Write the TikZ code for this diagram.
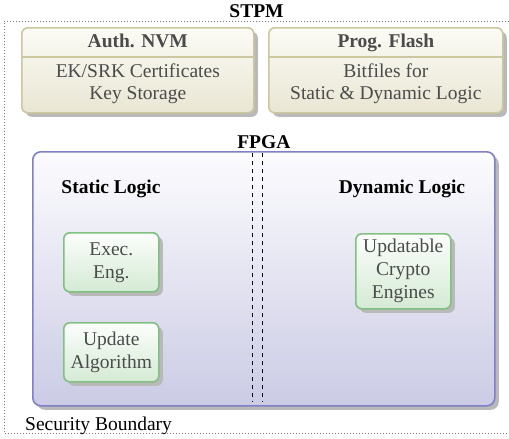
\documentclass[tikz,border=0pt]{standalone}
\usepackage{fontspec}
\setmainfont{Liberation Serif}
\usetikzlibrary{shadows}
\definecolor{ybord}{RGB}{204,199,160}
\definecolor{ytop}{RGB}{251,251,245}
\definecolor{ybot}{RGB}{233,230,211}
\definecolor{fbord}{RGB}{128,128,200}
\definecolor{ftop}{RGB}{252,252,254}
\definecolor{fbot}{RGB}{203,203,229}
\definecolor{gbord}{RGB}{128,192,128}
\definecolor{gtop}{RGB}{252,254,252}
\definecolor{gbot}{RGB}{212,234,212}
\definecolor{txt}{RGB}{75,75,75}
\definecolor{shad}{RGB}{185,185,185}
\definecolor{dotc}{RGB}{120,120,120}
\begin{document}
\begin{tikzpicture}[x=1pt,y=-1pt,
  font=\fontsize{19.5}{22.5}\selectfont,
  shadowed/.style={drop shadow={shadow xshift=4pt,shadow yshift=-4pt,fill=shad,opacity=1}},
  memb/.style={draw=ybord,line width=1.6pt,rounded corners=6pt,top color=ytop,bottom color=ybot,shadowed,inner sep=0pt,anchor=north west},
  fpgab/.style={draw=fbord,line width=1.6pt,rounded corners=8pt,top color=ftop,bottom color=fbot,shadowed,inner sep=0pt,anchor=north west},
  modb/.style={draw=gbord,line width=1.6pt,rounded corners=6pt,top color=gtop,bottom color=gbot,shadowed,inner sep=0pt,anchor=north west,text=txt,align=center,font=\fontsize{19.5}{23}\selectfont},
  hdr/.style={font=\fontsize{19.5}{22.5}\selectfont\bfseries,text=txt,anchor=base,inner sep=0pt},
  bodytxt/.style={text=txt,anchor=base,inner sep=0pt,align=center,font=\fontsize{19.5}{22.5}\selectfont},
  ttl/.style={font=\fontsize{19.5}{22.5}\selectfont\bfseries,text=black,anchor=base,inner sep=0pt},
  divl/.style={draw=ybord,line width=1.6pt},
  sepl/.style={draw=black,line width=0.8pt,dash pattern=on 4pt off 4pt},
  bound/.style={draw=dotc,line width=0.6pt,dash pattern=on 0.8pt off 2.2pt}
]
\useasboundingbox (0,0) rectangle (509,439);
% security boundary
\coordinate (sbl) at (4,433);
\coordinate (stl) at (4,21);
\coordinate (str) at (509,21);
\coordinate (sbr) at (509,433);
\draw[bound] (str) -- (stl) -- (sbl) -- (sbr);
\node[ttl] (stpm) at (256.5,17) {STPM};
\node[anchor=base west,inner sep=0pt,text=black] (secb) at (25,430) {Security Boundary};
% memories
\node[memb,minimum width=232pt,minimum height=85pt] (nvm) at (21,27) {};
\draw[divl] (nvm.west |- 0,57) -- (nvm.east |- 0,57);
\node[hdr] (nvmh) at (nvm.north |- 0,47) {Auth. NVM};
\node[bodytxt] (nvmb) at (nvm.north |- 0,99.5) {EK/SRK Certificates\\Key Storage};
\node[memb,minimum width=234pt,minimum height=85pt] (flash) at (268,27) {};
\draw[divl] (flash.west |- 0,57) -- (flash.east |- 0,57);
\node[hdr] (flashh) at (flash.north |- 0,47) {Prog. Flash};
\node[bodytxt] (flashb) at (flash.north |- 0,99.5) {Bitfiles for\\Static \& Dynamic Logic};
% FPGA
\node[fpgab,minimum width=462pt,minimum height=254pt] (fpga) at (32,151) {};
\node[ttl] (fpgat) at (fpga.north |- 0,148) {FPGA};
\coordinate (d1t) at (252.5,153);
\coordinate (d1b) at (252.5,402);
\coordinate (d2t) at (262.5,153);
\coordinate (d2b) at (262.5,402);
\draw[sepl] (d1t) -- (d1b);
\draw[sepl] (d2t) -- (d2b);
\node[ttl] (stat) at (111,193) {Static Logic};
\node[ttl] (dyn) at (402,193) {Dynamic Logic};
\node[modb,minimum width=95pt,minimum height=59pt] (exec) at (63,232) {Exec.\\Eng.};
\node[modb,minimum width=95pt,minimum height=59pt] (upd) at (63,322) {Update\\Algorithm};
\node[modb,minimum width=95pt,minimum height=75pt] (crypto) at (355,233) {Updatable\\Crypto\\Engines};
\end{tikzpicture}
\end{document}
